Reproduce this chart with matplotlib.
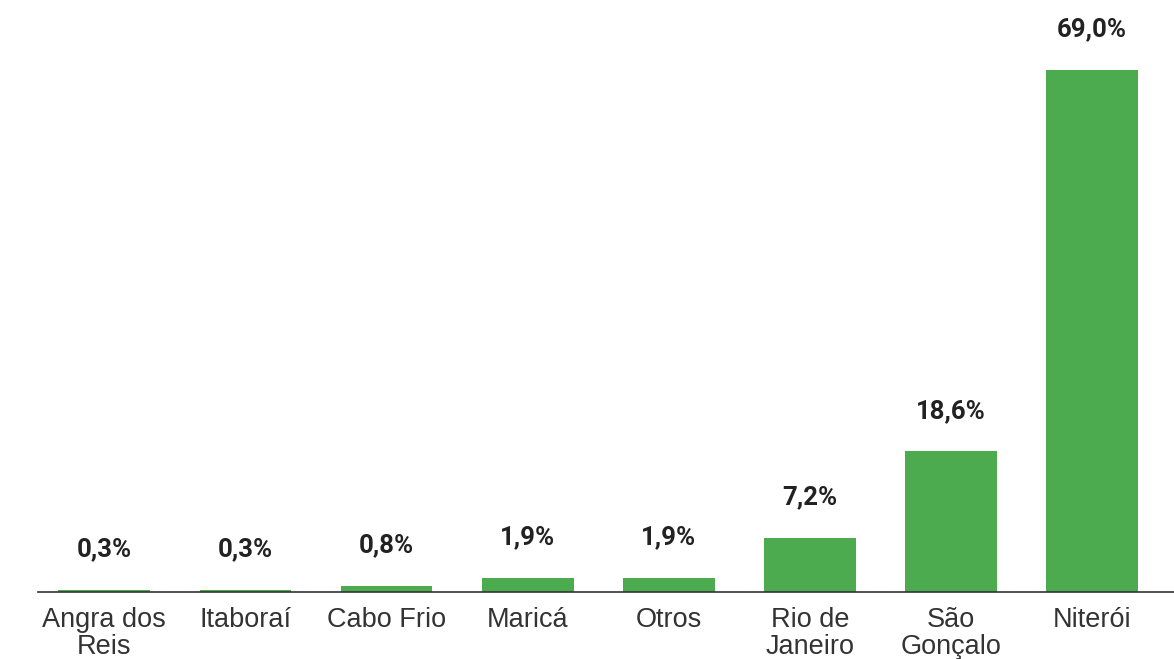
import matplotlib.pyplot as plt
import numpy as np

cities = ["Angra dos\nReis", "Itaboraí", "Cabo Frio", "Maricá", "Otros",
          "Rio de\nJaneiro", "São\nGonçalo", "Niterói"]
shares = [0.3, 0.3, 0.8, 1.9, 1.9, 7.2, 18.6, 69.0]
labels = ["0,3%", "0,3%", "0,8%", "1,9%", "1,9%", "7,2%", "18,6%", "69,0%"]

fig = plt.figure(figsize=(11.74, 6.59), dpi=100)
ax = fig.add_axes([38 / 1174, 67 / 659, 1 - 38 / 1174, 592 / 659])

x = np.arange(len(cities))
bars = ax.bar(x, shares, width=0.65, color="#4caa4f", zorder=2)

for b, txt in zip(bars, labels):
    ax.annotate(txt, (b.get_x() + b.get_width() / 2, b.get_height()),
                xytext=(0, 29), textcoords="offset points",
                ha="center", va="center", fontsize=18.5, fontweight="bold",
                family="Roboto", color="#222222")

ax.set_xlim(-0.47, 7.58)
ax.set_ylim(0, 78.25)
ax.set_xticks(x)
ax.set_xticklabels(cities, fontsize=19.5, family="Liberation Sans",
                   color="#333333", linespacing=1.05)
ax.tick_params(axis="x", length=0, pad=11)
ax.set_yticks([])
for s in ["top", "right", "left"]:
    ax.spines[s].set_visible(False)
ax.spines["bottom"].set_color("#333333")
ax.spines["bottom"].set_linewidth(1.2)

fig.savefig("out.png", dpi=100)
